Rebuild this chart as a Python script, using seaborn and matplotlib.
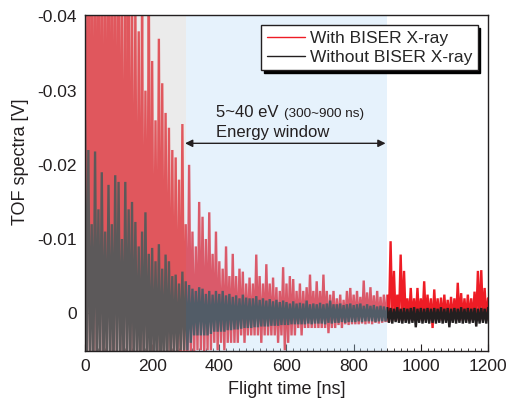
import numpy as np
import pandas as pd
import matplotlib
matplotlib.use("Agg")
import matplotlib.pyplot as plt
import seaborn as sns
from matplotlib.lines import Line2D
from matplotlib.ticker import MultipleLocator

# TOF trace, one sample every 5 ns, values in mV
t_start, t_stop, t_step = 0, 1200, 5

red_early = [  # 0-295 ns
    -55, 7, -58, 8, -52, 7, -60, 8, -55, 7,
    -57, 8, -53, 7, -58, 8, -56, 7, -54, 8,
    -55, 7, -50, 8, -46, 7, -52, 8, -44, 7,
    -42, 8, -38, 7, -43, 8, -30, 7, -45, 8,
    -34, 7, -26, 8, -37, 7, -31, 8, -27, 7,
    -25, 8, -22, 7, -21, 8, -18, 7, -25.5, 8,
]
red_window = [  # 300-895 ns
    -12, 7, -20, 6, -11, 6, -9, 5, -15, 5,
    -13, 6, -10, 5, -13.6, 5, -8, 4, -11, 5,
    -7, 4, -6, 5, -9, 4, -5, 4, -8, 4,
    -5, 4, -6, 3, -5.6, 4, -4, 3, -4.8, 3,
    -4, 3, -7.9, 3, -5, 4, -4, 3, -6.6, 3,
    -4, 3, -4.8, 3, -3.5, 4, -3, 3, -6.2, 5,
    -4, 4, -5, 3, -4.6, 3, -3, 2, -4, 3,
    -3, 2, -3.5, 2, -5.2, 2, -3, 2, -4.3, 2,
    -3, 2, -5.2, 2, -3, 2.7, -2.5, 2, -3, 2,
    -2, 1.6, -2.5, 2, -1.8, 1.5, -3, 1.6, -3.4, 1.5,
    -2.5, 1.5, -3, 1.5, -2.2, 1.4, -4.4, 1.5, -2.8, 1.4,
    -3.5, 1.5, -2.4, 1.3, -3, 1.4, -2.2, 1.3, -2.5, 1.2,
]
red_late = [  # 900-1200 ns
    -2.5, 1.2, -9.7, 1, -5.7, 1, -2.5, 1, -7.9, 1,
    -5.7, 1, -2, 1, -3.4, 1, -2, 1, -3.4, 1,
    -2, 1, -4.3, 1, -2.5, 1, -2, 2, -3.2, 1,
    -2, 1, -2.1, 1, -2.5, 1, -1.8, 1, -2.2, 1,
    -2, 1, -4.1, 1, -2.7, 1, -2, 1, -2.5, 1,
    -2, 1, -2.9, 1, -5.7, 1, -5.8, 1, -3.4, 1,
    -2,
]

black_early = [  # 0-295 ns
    -26, 8, -22, 8, -12, 8, -21.8, 8, -14, 8,
    -19, 8, -11, 8, -17.3, 8, -12, 8, -18.6, 8,
    -17.7, 8, -10, 8, -17.7, 8, -14, 8, -15, 8,
    -12.3, 8, -9, 8, -11, 8, -13.6, 8, -8, 8,
    -8.8, 8, -7, 8, -9.3, 8, -6, 8, -7.9, 7,
    -7, 6, -5, 6, -5.2, 6, -4, 5, -5.6, 5,
]
black_window = [  # 300-895 ns
    -4.3, 5, -3.8, 4, -3.3, 3, -3, 3, -3.5, 3,
    -3.3, 3, -2.6, 3, -3, 2.8, -2.5, 2.5, -3, 2.5,
    -2.6, 2.5, -3, 2.5, -2.4, 2.3, -2.6, 2.3, -2.2, 2.2,
    -2.4, 2.2, -2, 2.1, -2.5, 2, -2.1, 2, -2, 2,
    -2, 1.9, -2.3, 1.9, -1.8, 1.8, -2, 1.8, -1.7, 1.8,
    -1.9, 1.7, -1.6, 1.7, -1.8, 1.7, -1.5, 1.6, -1.7, 1.6,
    -1.5, 1.6, -1.3, 1.5, -1.6, 1.5, -1.3, 1.5, -1.4, 1.5,
    -1.3, 1.5, -1.7, 1.4, -1.2, 1.5, -1.3, 1.4, -1.2, 1.4,
    -1.4, 1.4, -1.2, 1.5, -1.3, 1.3, -1.7, 1.4, -1.2, 1.3,
    -1.2, 1.3, -1.3, 1.2, -1.1, 1.3, -1.2, 1.2, -1.3, 1.2,
    -1.1, 1.2, -1.2, 1.1, -1.3, 1.2, -1, 1.1, -1.2, 1.1,
    -1, 1.1, -1.1, 1.2, -0.9, 1.1, -1, 1.1, -0.9, 1.1,
]
black_late = [  # 900-1200 ns
    -0.8, 1.3, -0.7, 1.4, -0.6, 1.2, -0.8, 1.3, -0.6, 1.4,
    -0.7, 1.3, -0.6, 1.4, -0.7, 1.3, -0.8, 1.9, -0.6, 1.3,
    -0.7, 1.4, -0.6, 1.3, -0.7, 1.4, -0.6, 1.3, -0.7, 1.4,
    -0.6, 1.3, -0.8, 1.4, -0.6, 1.3, -0.7, 1.9, -0.6, 1.3,
    -0.7, 1.4, -0.6, 1.3, -0.8, 1.4, -0.6, 1.3, -0.7, 1.4,
    -0.6, 1.3, -0.7, 1.8, -0.6, 1.4, -0.7, 1.3, -0.6, 1.4,
    -0.7,
]

labels = ["With BISER X-ray", "Without BISER X-ray"]
colors = {"With BISER X-ray": "#ee1c25", "Without BISER X-ray": "#231f20"}

t = np.arange(t_start, t_stop + t_step, t_step)
red = np.array(red_early + red_window + red_late) / 1000.0
black = np.array(black_early + black_window + black_late) / 1000.0

df = pd.DataFrame({
    "time": np.concatenate([t, t]),
    "signal": np.concatenate([red, black]),
    "series": [labels[0]] * len(t) + [labels[1]] * len(t),
})

sns.set_style("ticks")
plt.rcParams["font.family"] = ["Liberation Sans", "DejaVu Sans"]
plt.rcParams["axes.unicode_minus"] = False

fig = plt.figure(figsize=(5.08, 4.01), dpi=100)
ax = fig.add_axes([0.1673, 0.1247, 0.7933, 0.8379])

sns.lineplot(data=df, x="time", y="signal", hue="series", hue_order=labels,
             palette=colors, estimator=None, sort=False, lw=1.7,
             legend=False, ax=ax)
for ln in ax.get_lines():
    ln.set_solid_joinstyle("miter")

# shaded regions sit on top of the traces
ax.axvspan(0, 300, color="#c8c8c8", alpha=0.35, lw=0, zorder=3)
ax.axvspan(300, 900, color="#b4daf8", alpha=0.33, lw=0, zorder=3)

ax.set_xlim(0, 1200)
ax.set_ylim(0.0051, -0.0402)
ax.xaxis.set_major_locator(MultipleLocator(200))
ax.xaxis.set_minor_locator(MultipleLocator(20))
ax.set_yticks([-0.04, -0.03, -0.02, -0.01, 0])
ax.set_yticklabels(["-0.04", "-0.03", "-0.02", "-0.01", "0"])
ax.tick_params(axis="both", which="both", direction="in", labelsize=12.5,
               colors="#231f20")
ax.tick_params(axis="x", which="major", length=5, pad=6)
ax.tick_params(axis="x", which="minor", length=2.5)
ax.tick_params(axis="y", which="major", length=5, pad=6)
for s in ax.spines.values():
    s.set_color("#231f20")
    s.set_linewidth(1)
    s.set_zorder(6)

ax.set_xlabel("Flight time [ns]", fontsize=13, color="#231f20", labelpad=5)
ax.set_ylabel("TOF spectra [V]", fontsize=13, color="#231f20")
ax.yaxis.set_label_coords(-0.139, 0.564)

ax.annotate("", xy=(298, -0.0229), xytext=(895, -0.0229),
            arrowprops=dict(arrowstyle="<|-|>", color="#231f20", lw=1,
                            mutation_scale=11, shrinkA=0, shrinkB=0),
            zorder=5)
ax.text(390, -0.0264, "5~40 eV", fontsize=12, color="#231f20", zorder=5)
ax.text(594, -0.0264, "(300~900 ns)", fontsize=9.7, color="#231f20", zorder=5)
ax.text(390, -0.0237, "Energy window", fontsize=12, color="#231f20", zorder=5)

handles = [Line2D([], [], color=colors[l], lw=1) for l in labels]
leg = ax.legend(handles, labels, loc="upper right", fontsize=12.5,
                frameon=True, fancybox=False, framealpha=1,
                edgecolor="#231f20", shadow={"color": "black", "alpha": 1},
                handlelength=2.2, handletextpad=0.3, labelspacing=0.25,
                borderpad=0.3, borderaxespad=0.6)
leg.get_frame().set_linewidth(1)
leg.set_zorder(7)

fig.savefig("out.png", dpi=100)
